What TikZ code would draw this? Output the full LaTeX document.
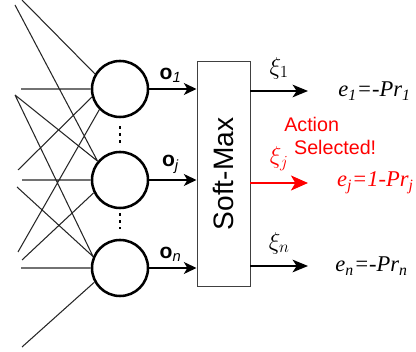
\documentclass[tikz,border=0pt]{standalone}
\usepackage{fontspec}
\setmainfont{Liberation Serif}
\setsansfont{Liberation Sans}
\usetikzlibrary{arrows.meta,positioning}

\begin{document}
\begin{tikzpicture}[
    x=0.025cm, y=-0.025cm,
    smInput/.style={black!85, line width=0.75pt},
    smNeuron/.style={circle, draw, line width=1.8pt, minimum size=1.4cm, inner sep=0pt},
    smBox/.style={draw=black!75, line width=0.7pt, minimum width=1.325cm, minimum height=5.6cm, inner sep=0pt},
    smIn/.style={line width=1.1pt, -{Stealth[length=9pt, width=8.5pt, inset=2.5pt]}},
    smOut/.style={line width=1.3pt, -{Stealth[length=11pt, width=9pt, inset=3pt]}},
    smSel/.style={red, line width=2pt, -{Stealth[length=12pt, width=10.5pt, inset=3pt]}},
    smDots/.style={line width=2.1pt, dash pattern=on 2.1pt off 2.9pt},
    smO/.style={font=\fontsize{15}{17}\selectfont, inner sep=0pt},
    smXi/.style={font=\fontsize{18}{20}\selectfont, inner sep=0pt},
    smEq/.style={font=\fontsize{16}{18}\selectfont\itshape, inner sep=0pt},
    smNote/.style={red, font=\sffamily\fontsize{14}{16.4}\selectfont, inner sep=0pt, align=left}
]
    \useasboundingbox (0,0) rectangle (416,352);

    % neurons and soft-max box
    \node[smNeuron] (c1) at (120,89) {};
    \node[smNeuron] (cj) at (120,180) {};
    \node[smNeuron] (cn) at (120,268) {};
    \node[smBox] (softmax) at (223.5,174)
        {\rotatebox{90}{\sffamily\fontsize{20}{22}\selectfont Soft-Max}};

    % input ends
    \coordinate (in1) at (22,0);
    \coordinate (in2) at (15,5);
    \coordinate (in3) at (15,95);
    \coordinate (inH1) at (21,89);
    \coordinate (in4) at (18,170);
    \coordinate (inH2) at (22,180);
    \coordinate (in5) at (17,187);
    \coordinate (in6) at (18,252);
    \coordinate (in7) at (22,260);
    \coordinate (inH3) at (21,268);
    \coordinate (in8) at (22,347);

    % input connections
    \draw[smInput] (in1) -- (c1.149)
        (inH1) -- (c1)
        (in4) -- (c1.196)
        (in6) -- (c1.225)
        (in2) -- (cj.140)
        (in3) -- (cj.140)
        (inH2) -- (cj)
        (in7) -- (cj.206)
        (in3) -- (cn.157)
        (in5) -- (cn.157)
        (inH3) -- (cn)
        (in8) -- (cn.209);

    % dots between neurons
    \draw[smDots, shorten <=0.2cm, shorten >=0.2cm] (c1) -- (cj);
    \draw[smDots, shorten <=0.1cm, shorten >=0.25cm] (cj) -- (cn);

    % neuron outputs o
    \draw[smIn] (c1) -- (c1 -| softmax.west)
        node[smO, pos=0.45, above=4pt] {{\sffamily\bfseries o}\textsubscript{\sffamily\itshape 1}};
    \draw[smIn] (cj) -- (cj -| softmax.west)
        node[smO, pos=0.45, above=4pt] {{\sffamily\bfseries o}\textsubscript{\sffamily\itshape j}};
    \draw[smIn] (cn) -- (cn -| softmax.west)
        node[smO, pos=0.45, above=4pt] {{\sffamily\bfseries o}\textsubscript{\sffamily\itshape n}};

    % soft-max outputs
    \coordinate (out1) at (308,91);
    \coordinate (outj) at (308,183);
    \coordinate (outn) at (308,266);
    \draw[smOut] (softmax.east |- out1) -- (out1)
        node[smXi, midway, above=0.28cm] {$\xi_1$};
    \draw[smSel] (softmax.east |- outj) -- (outj)
        node[smXi, red, midway, above=0.28cm] {$\xi_j$};
    \draw[smOut] (softmax.east |- outn) -- (outn)
        node[smXi, midway, above=0.28cm] {$\xi_n$};

    % errors
    \node[smEq, right=0.75cm of out1] (e1) {e\textsubscript{1}=-Pr\textsubscript{1}};
    \node[smEq, red, right=0.72cm of outj] (ej) {e\textsubscript{j}=1-Pr\textsubscript{j}};
    \node[smEq, right=0.68cm of outn] (en) {e\textsubscript{n}=-Pr\textsubscript{n}};

    \node[smNote, anchor=west] (note) at (284,136) {Action\\\hspace{7pt}Selected!};
\end{tikzpicture}
\end{document}
